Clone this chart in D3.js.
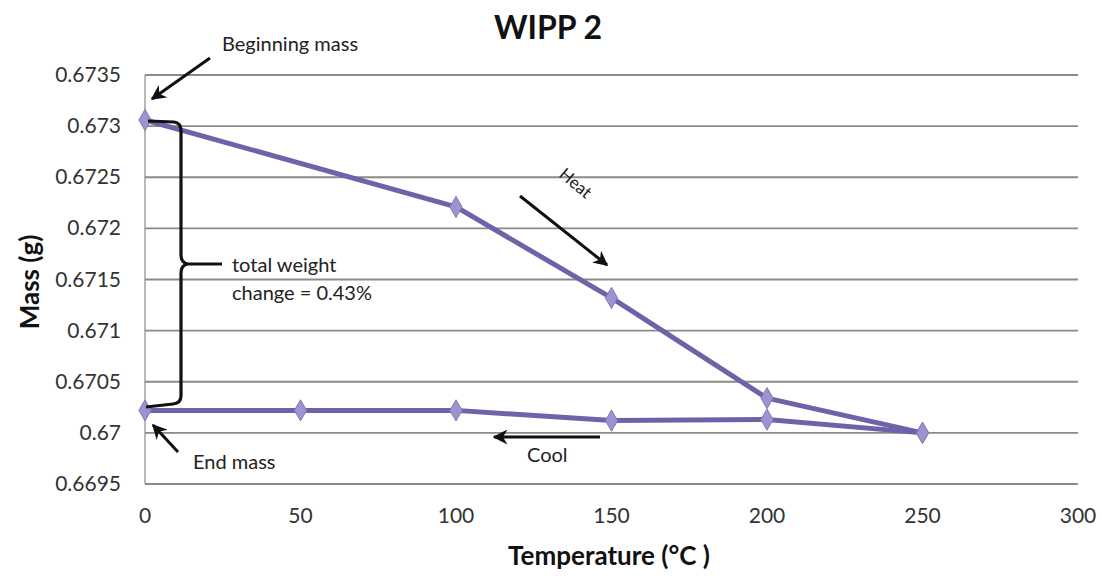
<!DOCTYPE html>
<html><head><meta charset="utf-8">
<script src="https://cdn.jsdelivr.net/npm/d3@7"></script>
<style>body{margin:0;background:#fff}svg{display:block}</style>
</head><body><svg id="c" width="1102" height="577"></svg>
<script>
const heatTemp = [0, 100, 150, 200, 250];
const heatMass = [0.67306, 0.67221, 0.67132, 0.67034, 0.67000];
const coolTemp = [250, 200, 150, 100, 50, 0];
const coolMass = [0.67000, 0.67013, 0.67012, 0.67022, 0.67022, 0.67022];
const xTicks = [0, 50, 100, 150, 200, 250, 300];
const yTicks = [0.6695, 0.67, 0.6705, 0.671, 0.6715, 0.672, 0.6725, 0.673, 0.6735];
const yTickLabels = ["0.6695","0.67","0.6705","0.671","0.6715","0.672","0.6725","0.673","0.6735"];

const svg = d3.select("#c");
const font = "Lato, 'Open Sans', sans-serif";
const L = 145, R = 1078, T = 75, B = 484;
const x = d3.scaleLinear().domain([0, 300]).range([L, R]);
const y = d3.scaleLinear().domain([0.6695, 0.6735]).range([B, T]);

// grid
svg.append("g").selectAll("line").data(yTicks).join("line")
  .attr("x1", L).attr("x2", R).attr("y1", d => y(d)).attr("y2", d => y(d))
  .attr("stroke", "#8a8a8a").attr("stroke-width", 1.8);
svg.append("line").attr("x1", L).attr("x2", L).attr("y1", T).attr("y2", B).attr("stroke", "#8a8a8a").attr("stroke-width", 1.2);

// axes labels
svg.append("g").selectAll("text").data(yTicks).join("text")
  .attr("x", 121).attr("y", d => y(d) + 7).attr("text-anchor", "end")
  .attr("font-family", font).attr("font-size", 21).attr("fill", "#333")
  .text((d, i) => yTickLabels[i]);
svg.append("g").selectAll("text").data(xTicks).join("text")
  .attr("x", d => x(d)).attr("y", 523).attr("text-anchor", "middle")
  .attr("font-family", font).attr("font-size", 21).attr("fill", "#333")
  .text(d => d);

svg.append("text").attr("x", 548).attr("y", 39).attr("text-anchor", "middle")
  .attr("font-family", font).attr("font-weight", "bold").attr("font-size", 32).attr("fill", "#111").text("WIPP 2");
svg.append("text").attr("x", 609).attr("y", 565).attr("text-anchor", "middle")
  .attr("font-family", font).attr("font-weight", "bold").attr("font-size", 26).attr("fill", "#111").text("Temperature (°C )");
svg.append("text").attr("transform", "translate(39,282) rotate(-90)").attr("text-anchor", "middle")
  .attr("font-family", font).attr("font-weight", "bold").attr("font-size", 26).attr("fill", "#111").text("Mass (g)");

// series
const lineGen = d3.line().x(d => x(d[0])).y(d => y(d[1]));
const heat = heatTemp.map((t, i) => [t, heatMass[i]]);
const cool = coolTemp.map((t, i) => [t, coolMass[i]]);
[cool, heat].forEach(s => {
  svg.append("path").datum(s).attr("d", lineGen).attr("fill", "none")
    .attr("stroke", "#6e62a8").attr("stroke-width", 5).attr("stroke-linejoin", "round");
});
const diamond = d3.symbol().type(d3.symbolDiamond).size(130);
[heat, cool].forEach(s => {
  svg.append("g").selectAll("path").data(s).join("path")
    .attr("transform", d => `translate(${x(d[0])},${y(d[1])})`).attr("d", diamond)
    .attr("fill", "#9d93cf").attr("stroke", "#8478bd").attr("stroke-width", 1);
});

// arrow marker
const defs = svg.append("defs");
defs.append("marker").attr("id", "ah").attr("viewBox", "0 0 10 10").attr("refX", 9).attr("refY", 5)
  .attr("markerWidth", 5).attr("markerHeight", 5).attr("orient", "auto")
  .append("path").attr("d", "M0,0 L10,5 L0,10 L3,5 Z").attr("fill", "#111");
function arrow(x1, y1, x2, y2) {
  svg.append("line").attr("x1", x1).attr("y1", y1).attr("x2", x2).attr("y2", y2)
    .attr("stroke", "#111").attr("stroke-width", 3).attr("marker-end", "url(#ah)");
}
arrow(210, 58, 152, 99);
arrow(178, 452, 153, 425);
arrow(520, 196, 607, 265);
arrow(600, 437, 494, 437);

// bracket
svg.append("path").attr("d", "M148,121 L174,122 Q181,123 181,131 L181,255 Q181,263 188,264 L222,264 M188,264 Q181,265 181,273 L181,396 Q181,403 173,404 L146,407")
  .attr("fill", "none").attr("stroke", "#111").attr("stroke-width", 3.2);

const annot = [
  ["Beginning mass", 222, 51],
  ["End mass", 193, 469],
  ["total weight", 232, 272],
  ["change = 0.43%", 232, 300],
  ["Cool", 527, 462]
];
svg.append("g").selectAll("text").data(annot).join("text")
  .attr("x", d => d[1]).attr("y", d => d[2]).attr("font-family", font).attr("font-size", 20).attr("fill", "#222")
  .text(d => d[0]);
svg.append("text").attr("transform", "translate(558,176) rotate(40)")
  .attr("font-family", font).attr("font-size", 17).attr("fill", "#222").text("Heat");
</script></body></html>
